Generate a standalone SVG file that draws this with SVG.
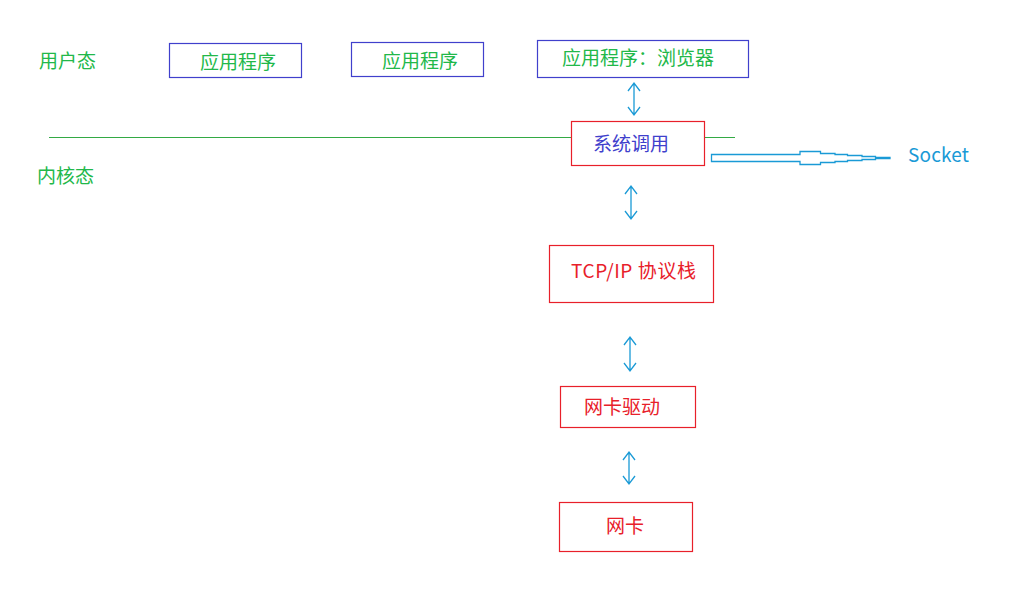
<svg xmlns="http://www.w3.org/2000/svg" width="1034" height="596" viewBox="0 0 1034 596">
<style>
text{font-family:"Noto Sans CJK SC","Noto Sans",sans-serif;font-size:19px}
.g{fill:#22b84a}
.r{fill:#e8202a}
.bl{fill:#4040cc}
.blue{stroke:#4040cc;fill:none;stroke-width:1.2}
.red{stroke:#e8202a;fill:none;stroke-width:1.2}
.arr{stroke:#1a9ad6;fill:none;stroke-width:1.3}
</style>
<rect width="1034" height="596" fill="#fff"/>
<text class="g" x="39" y="68">用户态</text>
<text class="g" x="37" y="183">内核态</text>
<g id="app1"><rect class="blue" x="169.5" y="43.5" width="132" height="34"/><text class="g" x="200" y="69">应用程序</text></g>
<g id="app2"><rect class="blue" x="351.5" y="42.5" width="132" height="34"/><text class="g" x="382" y="68">应用程序</text></g>
<g id="app3"><rect class="blue" x="537.5" y="40.5" width="211" height="37"/><text class="g" x="562" y="65">应用程序：浏览器</text></g>
<line x1="49" y1="137.5" x2="735" y2="137.5" stroke="#33aa44" stroke-width="1"/>
<g id="syscall"><rect class="red" style="fill:#fff" x="571.5" y="121.5" width="133" height="44"/><text class="bl" x="593" y="151">系统调用</text></g>
<g id="tcpip"><rect class="red" x="549.5" y="245.5" width="164" height="57"/><text class="r" x="571" y="278" textLength="125">TCP/IP 协议栈</text></g>
<g id="driver"><rect class="red" x="560.5" y="386.5" width="135" height="41"/><text class="r" x="584" y="414">网卡驱动</text></g>
<g id="nic"><rect class="red" x="559.5" y="502.5" width="133" height="49"/><text class="r" x="606" y="533">网卡</text></g>
<text x="908" y="162" fill="#1a9ad6" textLength="61">Socket</text>
<g id="connectors">
<path class="arr" d="M634 83V115M628 91L634 83L640 91M628 107L634 115L640 107"/>
<path class="arr" d="M631 186V219M625 194L631 186L637 194M625 211L631 219L637 211"/>
<path class="arr" d="M630 337V371M624 345L630 337L636 345M624 363L630 371L636 363"/>
<path class="arr" d="M629 452V484M623 460L629 452L635 460M623 476L629 484L635 476"/>
<path class="arr" d="M711.5 154.5H800V151.5H820.5V153.5H835V154.5H847.5V155.5H862V156.5H875.5V157.5H890V158.5H875.5V159.5H862V160.5H847.5V161.5H835V162.5H820.5V164.5H800V161.5H711.5Z"/>
</g>
</svg>
